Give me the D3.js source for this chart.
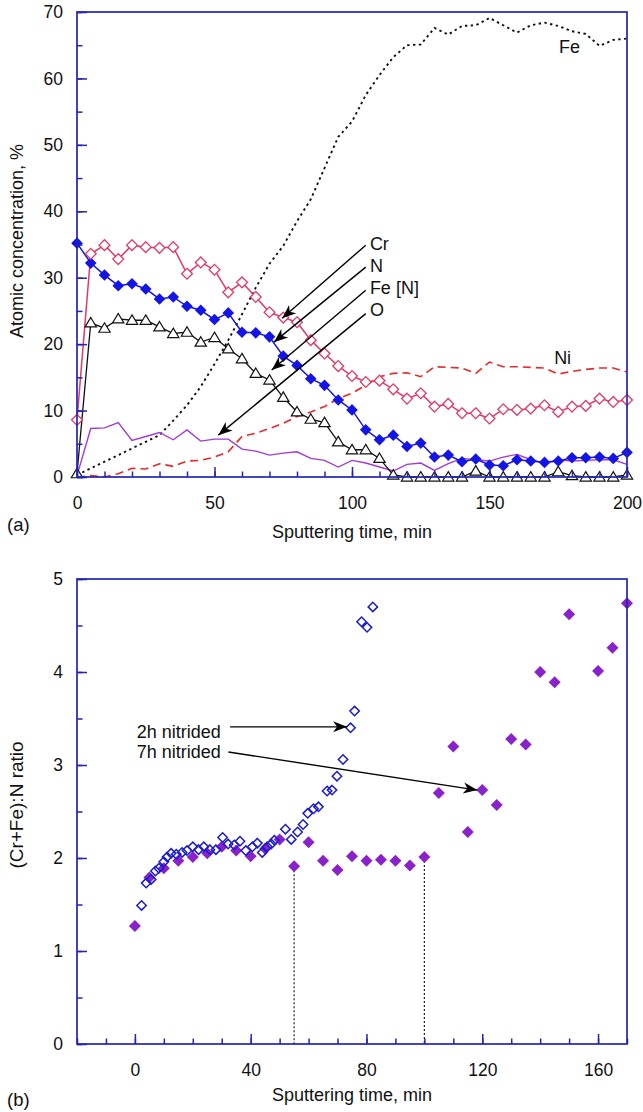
<!DOCTYPE html>
<html>
<head>
<meta charset="utf-8">
<script src="https://cdn.jsdelivr.net/npm/d3@7"></script>
<style>
  html, body { margin: 0; padding: 0; background: #fff; }
  svg { display: block; font-family: "Liberation Sans", Arial, Helvetica, sans-serif; }
</style>
</head>
<body>
<svg id="fig" width="643" height="1112"></svg>
<script>
// ---- Panel (a): depth profile, sampled every 5 min ----
const timeA = d3.range(0, 201, 5);
const crA   = [8.6,33.6,34.9,32.8,34.9,34.6,34.5,34.6,30.6,32.3,31.2,27.8,29.3,27.1,24.8,24.0,23.3,20.6,18.6,16.7,15.2,14.3,14.5,13.2,11.8,12.6,10.6,11.0,9.6,9.6,8.8,10.2,10.1,10.3,10.8,9.8,10.6,10.7,11.8,11.3,11.6];
const nA    = [35.2,32.2,30.4,28.8,29.1,28.3,26.8,27.1,25.7,25.1,23.7,24.7,21.8,21.7,21.1,18.2,16.8,14.8,13.8,11.6,10.1,7.1,5.6,6.3,4.6,5.1,3.0,3.3,2.3,2.7,1.8,1.7,2.6,2.4,2.2,2.4,2.9,2.9,3.0,2.8,3.7];
const feNA  = [0.5,23.2,22.4,23.8,23.6,23.6,22.6,21.6,21.8,20.3,21.0,19.3,17.8,15.6,14.6,12.0,9.8,8.7,8.2,5.3,4.1,4.1,2.8,0.3,0,0,0,0,0,0.9,0,0,0,0,0,0.8,0.2,0,0,0,0.3];
const oA    = [0.2,7.3,7.4,8.2,5.5,6.1,6.7,5.6,7.1,5.4,5.7,5.7,4.2,3.9,3.3,3.6,3.8,2.8,2.5,1.5,2.5,2.1,1.5,0.9,1.9,2.1,1.0,2.0,2.8,2.6,2.4,3.0,3.4,2.6,2.1,2.6,2.4,2.5,2.6,2.6,1.9];
const niA   = [0,0.2,0,0.5,1.3,1.2,2.0,1.6,2.4,2.5,3.0,3.8,6.1,6.6,7.3,8.1,9.1,9.8,10.6,11.8,12.6,13.8,15.1,15.6,15.7,15.1,16.6,16.5,16.4,15.6,17.3,16.6,16.6,16.5,16.4,15.5,15.9,16.2,16.4,16.4,15.8];
const feA   = [0.3,1.3,2.3,3.3,4.3,5.3,6.3,8.5,10.8,13.6,17.0,20.6,24.5,28.5,32.1,34.8,38.5,41.8,46.5,51.2,53.5,57.5,60.5,63.2,65.0,65.1,67.6,66.6,67.9,68.0,69.1,68.0,66.9,68.0,68.4,67.9,67.1,66.7,64.9,65.8,66.0];
const yTicksA = [0,10,20,30,40,50,60,70];
const xTicksA = [0,50,100,150,200];

// ---- Panel (b): (Cr+Fe):N ratio ----
const time2h  = [2.3,3.9,5.6,7.1,8.3,10,11.1,12.5,14.3,16.3,18,20,22,23.8,25.9,28,30.3,32.2,34.3,36.3,38.3,40.6,42.3,44,45.7,47.1,48.2,52,54,56.2,58.1,59.7,61.7,63.4,66.4,68.1,69.8,71.9,74.5,75.9,78.3,80.2,82.2];
const ratio2h = [1.49,1.73,1.77,1.86,1.89,1.96,2.01,2.05,2.04,2.06,2.08,2.12,2.09,2.12,2.09,2.09,2.22,2.15,2.14,2.18,2.08,2.12,2.16,2.06,2.12,2.15,2.19,2.31,2.2,2.28,2.36,2.48,2.53,2.55,2.72,2.73,2.88,3.06,3.4,3.58,4.54,4.48,4.7];
const time7h  = [0,5,10,15,20,25,30,35,40,45,50,55,60,65,70,75,80,85,90,95,100,105,110,115,120,125,130,135,140,145,150,160,165,170];
const ratio7h = [1.27,1.79,1.89,1.97,2.01,2.05,2.12,2.08,2.02,2.1,2.2,1.91,2.17,1.97,1.87,2.02,1.97,1.98,1.97,1.92,2.01,2.70,3.20,2.28,2.73,2.57,3.28,3.22,4.0,3.89,4.62,4.01,4.26,4.74];
const yTicksB = [0,1,2,3,4,5];
const xTicksB = [0,40,80,120,160];

const AXIS = "#2424b0";
const FONT = "Liberation Sans, Arial, sans-serif";
const svg = d3.select("#fig");
svg.append("rect").attr("width", 643).attr("height", 1112).attr("fill", "#fff");

// arrowhead used by the annotation leaders
svg.append("defs").append("marker")
  .attr("id", "head").attr("viewBox", "-15 -7 16 14")
  .attr("refX", 0).attr("refY", 0)
  .attr("markerWidth", 16).attr("markerHeight", 14)
  .attr("markerUnits", "userSpaceOnUse").attr("orient", "auto")
  .append("path").attr("d", "M0,0 L-14,-5.5 L-10,0 L-14,5.5 Z").attr("fill", "#000");

const diamond = r => `M0,${-r}L${r},0L0,${r}L${-r},0Z`;
const triangle = r => `M0,${-r}L${r*1.05},${r*0.75}L${-r*1.05},${r*0.75}Z`;

function frame(g, x, y, o) {
  const [x0, x1] = x.range(), [y1, y0] = y.range();
  // minor ticks
  g.append("g").attr("transform", `translate(0,${y1})`)
    .call(d3.axisBottom(x).tickValues(o.xMinor).tickSize(-5.5).tickFormat(""))
    .call(a => a.select(".domain").remove())
    .call(a => a.selectAll("line").attr("stroke", AXIS).attr("stroke-width", 1.5));
  g.append("g").attr("transform", `translate(${x0},0)`)
    .call(d3.axisLeft(y).tickValues(o.yMinor).tickSize(-5.5).tickFormat(""))
    .call(a => a.select(".domain").remove())
    .call(a => a.selectAll("line").attr("stroke", AXIS).attr("stroke-width", 1.5));
  // major ticks with labels
  g.append("g").attr("transform", `translate(0,${y1})`)
    .call(d3.axisBottom(x).tickValues(o.xMajor).tickSize(-10).tickPadding(20).tickFormat(d3.format("d")))
    .call(a => a.select(".domain").remove())
    .call(a => a.selectAll("line").attr("stroke", AXIS).attr("stroke-width", 1.5))
    .call(a => a.selectAll("text").attr("fill", "#111").attr("font-size", 17.5).attr("font-family", FONT));
  g.append("g").attr("transform", `translate(${x0},0)`)
    .call(d3.axisLeft(y).tickValues(o.yMajor).tickSize(-10).tickPadding(14).tickFormat(d3.format("d")))
    .call(a => a.select(".domain").remove())
    .call(a => a.selectAll("line").attr("stroke", AXIS).attr("stroke-width", 1.5))
    .call(a => a.selectAll("text").attr("fill", "#111").attr("font-size", 17.5).attr("font-family", FONT));
  g.append("rect").attr("x", x0).attr("y", y0).attr("width", x1 - x0).attr("height", y1 - y0)
    .attr("fill", "none").attr("stroke", AXIS).attr("stroke-width", 1.7);
  // titles
  g.append("text").attr("x", (x0 + x1) / 2).attr("y", o.xTitleY).attr("text-anchor", "middle")
    .attr("font-size", 18).attr("fill", "#111").text(o.xTitle);
  g.append("text").attr("transform", `translate(${o.yTitleX},${o.yTitleMid}) rotate(-90)`)
    .attr("text-anchor", "middle").attr("font-size", o.yTitleSize).attr("fill", "#111").text(o.yTitle);
  g.append("text").attr("x", 7).attr("y", o.tagY).attr("font-size", 18.5).attr("fill", "#111").text(o.tag);
}

function leader(g, x, y, a) {
  g.append("line")
    .attr("x1", x(a.from[0])).attr("y1", y(a.from[1]))
    .attr("x2", x(a.to[0])).attr("y2", y(a.to[1]))
    .attr("stroke", "#000").attr("stroke-width", 1.4).attr("marker-end", "url(#head)");
}

// ================= Panel (a) =================
{
  const x = d3.scaleLinear().domain([0, 200]).range([77, 627]);
  const y = d3.scaleLinear().domain([0, 70]).range([477, 12]);
  const g = svg.append("g");

  const line = vals => d3.line().x((d, i) => x(timeA[i])).y(d => y(d))(vals);

  g.append("path").attr("d", line(feA)).attr("fill", "none").attr("stroke", "#111")
    .attr("stroke-width", 1.9).attr("stroke-dasharray", "2.4,3.4");
  g.append("path").attr("d", line(niA)).attr("fill", "none").attr("stroke", "#e42a2a")
    .attr("stroke-width", 1.6).attr("stroke-dasharray", "8,5");
  g.append("path").attr("d", line(oA)).attr("fill", "none").attr("stroke", "#a33ad6")
    .attr("stroke-width", 1.4);
  g.append("path").attr("d", line(feNA)).attr("fill", "none").attr("stroke", "#111")
    .attr("stroke-width", 1.3);
  g.append("path").attr("d", line(nA)).attr("fill", "none").attr("stroke", "#1515e0")
    .attr("stroke-width", 1.5);
  g.append("path").attr("d", line(crA)).attr("fill", "none").attr("stroke", "#e23a64")
    .attr("stroke-width", 1.5);

  g.append("g").selectAll("path").data(feNA).join("path")
    .attr("transform", (d, i) => `translate(${x(timeA[i])},${y(d)})`)
    .attr("d", triangle(5.4)).attr("fill", "#fff").attr("stroke", "#111").attr("stroke-width", 1.2);
  g.append("g").selectAll("path").data(nA).join("path")
    .attr("transform", (d, i) => `translate(${x(timeA[i])},${y(d)})`)
    .attr("d", diamond(5.8)).attr("fill", "#1414e6");
  g.append("g").selectAll("path").data(crA).join("path")
    .attr("transform", (d, i) => `translate(${x(timeA[i])},${y(d)})`)
    .attr("d", diamond(5.4)).attr("fill", "#fff").attr("stroke", "#e23a64").attr("stroke-width", 1.3);

  frame(g, x, y, {
    xMajor: xTicksA, xMinor: d3.range(0, 201, 10),
    yMajor: yTicksA, yMinor: d3.range(0, 71, 5),
    xTitle: "Sputtering time, min", xTitleY: 538,
    yTitle: "Atomic concentration, %", yTitleX: 23, yTitleMid: 241, yTitleSize: 18,
    tag: "(a)", tagY: 531
  });

  // series labels and leaders
  const labels = [
    { t: "Cr", at: [106.5, 34.1], from: [105, 34.9], to: [74.6, 23.9] },
    { t: "N", at: [106.5, 30.8], from: [105, 31.6], to: [71.6, 20.3] },
    { t: "Fe [N]", at: [106.5, 27.6], from: [105, 28.1], to: [70.8, 16.1] },
    { t: "O", at: [106.5, 24.2], from: [105, 24.6], to: [51.4, 6.3] }
  ];
  labels.forEach(a => {
    g.append("text").attr("x", x(a.at[0])).attr("y", y(a.at[1]))
      .attr("font-size", 18).attr("fill", "#111").text(a.t);
    leader(g, x, y, a);
  });
  g.append("text").attr("x", x(175.3)).attr("y", y(63.8)).attr("font-size", 18).attr("fill", "#111").text("Fe");
  g.append("text").attr("x", x(173.5)).attr("y", y(17.0)).attr("font-size", 18).attr("fill", "#111").text("Ni");
}

// ================= Panel (b) =================
{
  const x = d3.scaleLinear().domain([-20, 170]).range([77, 627]);
  const y = d3.scaleLinear().domain([0, 5]).range([1044, 579]);
  const g = svg.append("g");

  // dotted guides from the plateau ends down to the axis
  [[55, 1.91], [100, 2.01]].forEach(([t, r]) => {
    g.append("line").attr("x1", x(t)).attr("x2", x(t)).attr("y1", y(r)).attr("y2", y(0))
      .attr("stroke", "#222").attr("stroke-width", 1.2).attr("stroke-dasharray", "2,2");
  });

  g.append("g").selectAll("path").data(ratio7h).join("path")
    .attr("transform", (d, i) => `translate(${x(time7h[i])},${y(d)})`)
    .attr("d", diamond(6)).attr("fill", "#8a22cc");
  g.append("g").selectAll("path").data(ratio2h).join("path")
    .attr("transform", (d, i) => `translate(${x(time2h[i])},${y(d)})`)
    .attr("d", diamond(4.7)).attr("fill", "none").attr("stroke", "#1c1cc8").attr("stroke-width", 1.5);

  frame(g, x, y, {
    xMajor: xTicksB, xMinor: d3.range(-20, 171, 10),
    yMajor: yTicksB, yMinor: d3.range(0, 5.01, 0.5),
    xTitle: "Sputtering time, min", xTitleY: 1101,
    yTitle: "(Cr+Fe):N ratio", yTitleX: 23, yTitleMid: 805, yTitleSize: 19,
    tag: "(b)", tagY: 1106
  });

  const notes = [
    { t: "2h nitrided", at: [0.6, 3.29], from: [32.9, 3.41], to: [73.3, 3.41] },
    { t: "7h nitrided", at: [0.6, 3.07], from: [32.3, 3.14], to: [118.3, 2.73] }
  ];
  notes.forEach(a => {
    g.append("text").attr("x", x(a.at[0])).attr("y", y(a.at[1]))
      .attr("font-size", 18).attr("fill", "#111").text(a.t);
    leader(g, x, y, a);
  });
}
</script>
</body>
</html>
